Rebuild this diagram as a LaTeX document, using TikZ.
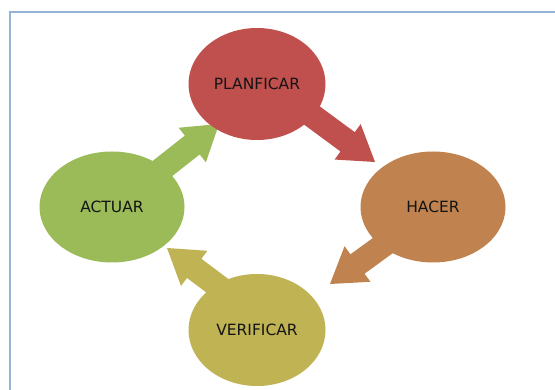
\documentclass[tikz,border=0pt]{standalone}
\usepackage{fontspec}
\setmainfont{DejaVu Sans}
\usetikzlibrary{calc,shapes.geometric}
\definecolor{cred}{HTML}{C0504D}
\definecolor{corange}{HTML}{C0834F}
\definecolor{colive}{HTML}{BFB354}
\definecolor{cgreen}{HTML}{9BBB59}
\definecolor{cframe}{HTML}{95B3D7}
\definecolor{ctext}{HTML}{141414}
\tikzset{
  phase/.style={ellipse, minimum width=145pt, minimum height=111pt, inner sep=0pt,
    text=ctext, font=\fontsize{15.5}{17}\selectfont},
  narrowphase/.style={phase, minimum width=137pt, minimum height=112pt},
}
% block arrow: #1 start, #2 tip, #3 colour
\newcommand{\blockarrowx}[3]{%
  \coordinate (hb) at ($(#2)!34pt!(#1)$);
  \fill[#3] ($(#1)!12pt!90:(#2)$) -- ($(hb)!12pt!90:(#2)$) -- ($(hb)!22pt!90:(#2)$)
    -- (#2) -- ($(hb)!22pt!-90:(#2)$) -- ($(hb)!12pt!-90:(#2)$) -- ($(#1)!12pt!-90:(#2)$) -- cycle;
}
\begin{document}
\begin{tikzpicture}[x=1pt,y=-1pt]
\useasboundingbox (0,0) rectangle (555,390);
\fill[white] (0,0) rectangle (555,390);
\draw[cframe, line width=2pt] (10,391) -- (10,12) -- (556,12);

% arrow end points
\coordinate (s1) at (299,106);  \coordinate (t1) at (375,162);
\coordinate (s2) at (407,228);  \coordinate (t2) at (330,284);
\coordinate (s3) at (243,305);  \coordinate (t3) at (167,248);
\coordinate (s4) at (144,183);  \coordinate (t4) at (219,124);

\blockarrowx{s1}{t1}{cred}
\blockarrowx{s2}{t2}{corange}
\blockarrowx{s3}{t3}{colive}
\blockarrowx{s4}{t4}{cgreen}

\node[narrowphase, fill=cred]    (plan) at (257,84)  {PLANFICAR};
\node[phase, fill=corange] (hacer) at (433,207) {HACER};
\node[narrowphase, fill=colive]  (verif) at (257,330) {VERIFICAR};
\node[phase, fill=cgreen]  (actuar) at (112,207) {ACTUAR};
\end{tikzpicture}
\end{document}
